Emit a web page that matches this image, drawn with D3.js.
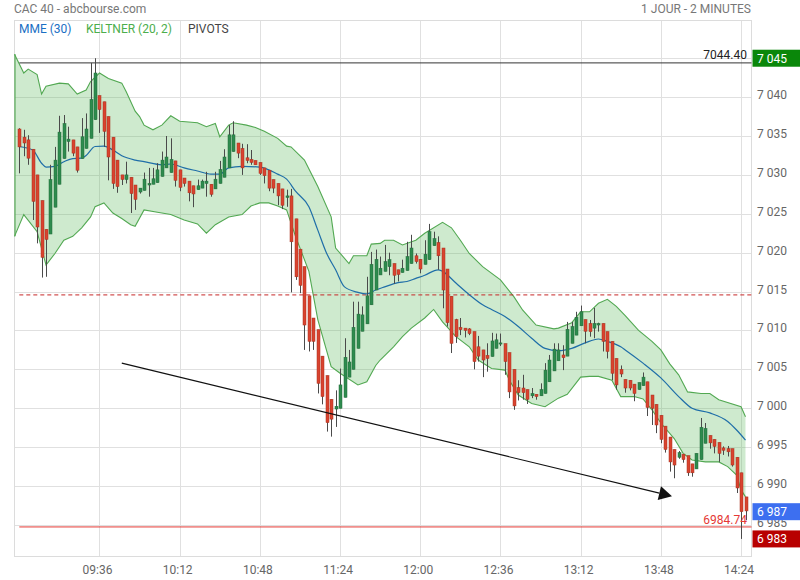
<!DOCTYPE html>
<html><head><meta charset="utf-8">
<script src="https://cdn.jsdelivr.net/npm/d3@7"></script>
<style>body{margin:0;background:#fff}svg{display:block;font-family:Roboto,"DejaVu Sans",sans-serif}</style>
</head><body>
<svg id="c" width="800" height="580"></svg>
<script>
const opens = [7035.9,7034.85,7034.5,7033.3,7030.0,7026.7,7023.0,7022.4,7025.85,7028.8,
7032.1,7034.3,7034.5,7033.6,7032.1,7033.4,7034.7,7037.1,7040.2,7039.4,
7037.5,7034.85,7031.9,7030.0,7029.4,7029.7,7028.7,7027.8,7028.0,7028.7,
7028.8,7029.0,7029.8,7030.9,7030.3,7031.8,7030.65,7029.6,7029.2,7028.6,
7028.1,7028.3,7028.9,7028.8,7028.2,7028.9,7029.7,7030.9,7033.0,7034.1,
7033.4,7032.2,7032.0,7031.85,7031.6,7030.9,7030.6,7029.4,7028.9,7028.2,
7027.1,7027.3,7024.35,7020.45,7018.2,7014.45,7011.6,7010.1,7006.7,7004.2,
7001.15,6999.9,6999.99,7001.4,7004.0,7005.0,7007.7,7009.9,7010.85,7013.3,
7015.2,7017.14,7017.6,7018.2,7018.6,7017.8,7017.45,7017.7,7018.6,7019.6,
7019.15,7018.5,7019.1,7020.9,7021.3,7020.6,7017.9,7014.4,7011.4,7010.4,
7010.3,7010.2,7009.85,7007.9,7007.5,7006.8,7006.65,7007.7,7008.25,7008.3,
7007.15,7005.0,7002.65,7002.6,7002.4,7001.6,7001.8,7001.6,7001.9,7003.4,
7004.8,7006.1,7006.85,7006.7,7008.35,7009.4,7010.6,7011.4,7010.9,7010.3,
7010.7,7010.9,7009.85,7008.6,7006.4,7005.0,7003.7,7003.6,7003.1,7002.4,
7002.9,7003.4,7001.7,7000.5,6999.1,6997.7,6996.3,6994.7,6993.7,6994.1,
6993.9,6992.85,6992.2,6993.4,6995.5,6996.5,6996.0,6995.6,6994.9,6994.8,
6994.8,6993.7,6991.7,6988.6];
const highs = [7036.0,7035.8,7035.1,7033.3,7030.0,7026.7,7023.0,7031.3,7033.6,7037.6,
7037.7,7036.2,7034.5,7033.6,7037.3,7037.9,7044.4,7045.0,7040.2,7039.4,
7037.5,7034.85,7031.9,7030.0,7031.7,7029.7,7028.7,7028.3,7030.3,7030.9,
7030.9,7031.5,7033.0,7035.0,7034.7,7031.8,7030.65,7029.6,7029.2,7028.6,
7029.4,7029.4,7030.4,7028.8,7030.4,7031.8,7033.3,7036.4,7036.9,7034.1,
7034.0,7033.95,7033.2,7031.85,7031.6,7030.9,7030.6,7029.4,7028.9,7028.2,
7028.1,7028.2,7024.35,7020.45,7018.2,7014.45,7011.6,7010.1,7006.7,7004.2,
7001.15,7002.3,7005.1,7009.0,7007.5,7013.7,7013.7,7013.1,7016.9,7020.1,
7020.4,7019.5,7021.0,7020.0,7018.6,7017.8,7019.1,7021.4,7022.3,7019.9,
7019.15,7021.6,7023.7,7022.7,7022.1,7020.6,7017.9,7014.4,7011.5,7011.6,
7010.3,7010.3,7009.85,7009.3,7007.5,7008.35,7009.7,7009.6,7009.6,7008.3,
7007.15,7005.0,7003.6,7004.3,7002.4,7002.6,7001.8,7003.2,7005.8,7006.85,
7008.35,7008.35,7008.1,7011.1,7011.1,7012.4,7013.2,7011.4,7011.35,7012.9,
7011.0,7010.9,7009.85,7008.6,7006.4,7005.5,7003.7,7003.6,7003.1,7003.3,
7004.6,7003.4,7001.7,7000.5,6999.1,6997.7,6996.3,6994.7,6994.5,6994.1,
6993.9,6992.85,6994.2,6998.75,6998.1,6996.5,6996.0,6995.6,6995.1,6995.15,
6994.8,6993.7,6991.7,6988.6];
const lows = [7030.2,7032.4,7031.3,7024.2,7021.2,7016.8,7016.9,7022.4,7025.85,7028.8,
7032.1,7033.0,7032.4,7030.3,7032.1,7033.4,7034.7,7037.1,7035.4,7033.6,
7029.3,7028.2,7027.7,7028.7,7028.9,7025.1,7025.5,7027.6,7028.0,7027.2,
7028.8,7029.0,7029.8,7030.9,7030.3,7028.5,7027.9,7028.5,7026.6,7025.85,
7028.1,7028.3,7027.2,7027.2,7028.2,7028.9,7029.7,7030.9,7033.0,7032.15,
7030.0,7031.5,7031.3,7031.3,7030.0,7028.9,7027.9,7027.65,7026.1,7025.6,
7025.9,7014.9,7016.5,7014.8,7007.5,7007.3,7007.5,7001.9,7000.5,6997.0,
6996.35,6997.6,6999.99,7001.4,7004.0,7005.0,7007.7,7009.9,7010.85,7013.3,
7015.2,7017.14,7017.6,7017.1,7016.0,7016.3,7017.45,7017.7,7018.6,7018.6,
7017.35,7018.5,7019.1,7020.9,7017.8,7012.85,7010.5,7007.1,7008.4,7009.4,
7009.1,7009.4,7005.0,7006.0,7004.0,7004.7,7006.65,7007.7,7008.0,7004.3,
7001.3,6999.8,7001.0,7001.1,7000.55,7001.3,7001.1,7001.6,7001.9,7003.4,
7004.8,7006.1,7004.9,7006.7,7008.35,7009.4,7010.6,7008.35,7009.2,7009.0,
7009.85,7007.3,7006.4,7003.6,7002.4,7004.0,7002.0,7002.3,7000.9,7002.4,
7002.9,6999.0,6997.85,6996.8,6995.5,6994.3,6991.85,6991.0,6993.5,6993.0,
6991.3,6991.2,6992.2,6993.4,6995.5,6994.8,6994.2,6993.1,6994.0,6993.8,
6992.5,6989.1,6983.2,6985.6];
const closes = [7033.6,7034.1,7032.15,7026.6,7023.3,7019.4,7021.7,7029.4,7031.9,7035.5,
7036.6,7034.6,7032.8,7030.6,7034.9,7035.9,7039.7,7043.1,7038.4,7035.6,
7032.3,7028.9,7028.5,7029.4,7030.0,7027.6,7026.85,7028.3,7029.45,7028.9,
7029.5,7030.65,7031.9,7032.3,7032.0,7029.3,7028.4,7028.9,7027.7,7027.55,
7028.6,7029.2,7029.2,7027.5,7029.45,7030.7,7032.3,7035.15,7035.15,7032.8,
7030.9,7031.85,7031.6,7031.3,7030.2,7029.9,7028.3,7028.3,7027.3,7026.1,
7027.3,7021.4,7016.9,7015.8,7010.7,7008.6,7008.6,7003.2,7001.5,6998.15,
6998.6,7000.25,7003.0,7006.55,7005.95,7010.4,7012.1,7012.0,7014.45,7018.5,
7019.15,7018.0,7018.85,7019.1,7017.1,7017.2,7018.0,7019.5,7020.6,7018.85,
7017.9,7019.8,7022.7,7021.8,7019.6,7015.2,7011.0,7008.35,7009.2,7010.1,
7010.0,7009.6,7006.0,7006.7,7006.2,7006.4,7008.65,7008.8,7008.4,7006.0,
7002.1,7000.3,7002.0,7002.0,7001.15,7001.9,7001.5,7002.4,7004.9,7006.2,
7007.6,7007.5,7006.5,7010.15,7010.5,7011.7,7012.4,7009.9,7009.85,7010.9,
7010.9,7008.6,7007.3,7004.5,7003.0,7004.4,7002.6,7002.6,7001.9,7003.3,
7004.0,7000.1,7000.0,6997.85,6996.0,6994.7,6993.1,6992.7,6994.3,6993.4,
6991.7,6991.7,6994.2,6997.55,6997.4,6995.55,6995.1,6994.2,6994.6,6994.4,
6992.7,6989.75,6986.7,6986.8];

// Keltner (20,2) bands and MME(30): [candle index, value]
const keltnerUpper = [[0,7045.5],[1,7043.1],[2,7043.6],[4,7042.9],[5,7040.4],[6,7041.4],[9,7041.8],[11,7041.7],[13,7040.4],[15,7040.9],[16,7042.0],[18,7043.1],[20,7042.4],[23,7041.8],[24,7040.7],[26,7038.2],[27,7037.5],[28,7036.4],[30,7035.8],[32,7036.4],[34,7037.6],[36,7036.9],[40,7036.7],[42,7036.2],[44,7036.6],[45,7034.9],[47,7036.4],[48,7036.7],[51,7036.4],[53,7036.1],[55,7035.6],[58,7034.7],[60,7033.7],[61,7033.6],[64,7031.9],[67,7028.5],[70,7024.6],[71,7020.6],[74,7018.6],[75,7019.6],[78,7019.6],[79,7021.1],[81,7021.2],[82,7021.6],[84,7021.6],[86,7021.0],[89,7021.6],[91,7022.5],[95,7023.9],[97,7023.2],[99,7021.6],[101,7019.9],[104,7018.2],[108,7016.5],[111,7014.35],[113,7012.6],[116,7010.7],[120,7010.2],[121,7010.3],[124,7011.0],[126,7012.4],[128,7012.4],[130,7013.5],[132,7014.0],[134,7013.1],[136,7011.9],[139,7010.0],[142,7008.6],[144,7007.5],[146,7005.7],[148,7004.3],[150,7002.1],[153,7001.9],[155,7001.9],[157,7001.1],[162,7000.2],[163,6998.9]];
const keltnerLower = [[0,7022.1],[1,7024.9],[4,7022.7],[6,7018.4],[8,7019.9],[10,7021.6],[12,7022.1],[14,7023.2],[16,7024.6],[17,7025.9],[19,7026.4],[21,7025.1],[23,7024.4],[25,7023.6],[26,7023.4],[28,7025.5],[31,7025.2],[34,7024.9],[37,7024.2],[40,7023.7],[42,7022.5],[44,7023.6],[47,7024.6],[50,7024.9],[52,7026.0],[54,7026.4],[56,7026.4],[58,7026.0],[60,7025.5],[62,7022.1],[65,7017.6],[67,7011.4],[70,7005.35],[72,7004.5],[76,7003.0],[78,7003.4],[80,7005.5],[81,7006.2],[84,7007.9],[86,7009.2],[88,7010.3],[91,7011.6],[93,7012.7],[95,7011.1],[98,7009.2],[101,7007.9],[103,7006.2],[106,7005.1],[109,7004.9],[110,7003.6],[112,7001.7],[115,7000.6],[118,7000.2],[121,7001.3],[123,7001.8],[126,7004.0],[128,7004.1],[130,7004.1],[133,7003.6],[135,7001.5],[138,7001.5],[140,7001.2],[142,6999.8],[144,6998.1],[147,6996.1],[149,6994.2],[151,6993.35],[154,6993.1],[157,6993.1],[159,6992.5],[161,6991.4],[162,6989.5],[163,6988.6]];
const mme30 = [[0,7033.65],[3,7033.2],[5,7031.5],[6,7031.0],[8,7031.1],[10,7031.7],[12,7032.1],[14,7032.15],[15,7032.5],[17,7033.65],[19,7033.7],[21,7033.2],[23,7032.45],[26,7031.9],[28,7031.7],[32,7031.3],[34,7031.4],[37,7030.9],[40,7030.5],[43,7030.1],[45,7030.1],[47,7030.9],[50,7031.1],[54,7031.0],[58,7030.1],[60,7029.45],[62,7027.9],[65,7025.9],[67,7022.9],[69,7019.9],[71,7017.8],[73,7015.6],[76,7014.9],[78,7014.7],[80,7015.2],[82,7015.6],[85,7016.15],[87,7016.3],[89,7016.7],[91,7017.1],[94,7017.8],[95,7017.6],[98,7016.1],[101,7014.6],[104,7013.3],[106,7012.7],[109,7011.8],[112,7010.5],[115,7009.0],[118,7007.7],[121,7007.4],[124,7007.7],[127,7008.4],[130,7008.9],[132,7008.6],[135,7007.9],[136,7007.5],[140,7005.8],[144,7003.9],[148,7001.5],[151,7000.0],[155,6999.4],[159,6998.3],[161,6997.2],[163,6995.9]];

const pivotLevels = [7044.40, 7014.57, 6984.74];
const trendLine = [[23, 7005.8], [146.5, 6988.7]];
const yTicks = [6985,6990,6995,7000,7005,7010,7015,7020,7025,7030,7035,7040,7045];
const yTickLabels = ["6 985","6 990","6 995","7 000","7 005","7 010","7 015","7 020","7 025","7 030","7 035","7 040",""];
const xTickIdx = [18,36,54,72,90,108,126,144,162];
const xTickLabels = ["09:36","10:12","10:48","11:24","12:00","12:36","13:12","13:48","14:24"];
const dayHigh = 7045.0, lastPrice = 6986.7, dayLow = 6983.2;

const svg = d3.select("#c");
const L = 14.5, R = 751.5, T = 20.5, B = 556.5;
const x = d3.scaleLinear().domain([0, 163]).range([19.3, 745.5]);
const y = d3.scaleLinear().domain([6980.94, 7049.85]).range([B, T]);
const frFmt = v => d3.format(",.0f")(v).replace(/,/g, " ");
const bx = i => i === 0 ? L : x(i);   // band reaches the plot's left edge

svg.append("rect").attr("width",800).attr("height",580).attr("fill","#fff");

// grid
const g = svg.append("g");
g.selectAll(".hg").data(yTicks).join("line")
  .attr("x1",L).attr("x2",R).attr("y1",d=>Math.round(y(d))+0.5).attr("y2",d=>Math.round(y(d))+0.5)
  .attr("stroke","#e0e0e0").attr("stroke-width",1);
g.selectAll(".vg").data(xTickIdx).join("line")
  .attr("x1",d=>Math.round(x(d))+0.5).attr("x2",d=>Math.round(x(d))+0.5).attr("y1",T).attr("y2",B)
  .attr("stroke","#e0e0e0").attr("stroke-width",1);
g.append("rect").attr("x",L).attr("y",T).attr("width",R-L).attr("height",B-T)
  .attr("fill","none").attr("stroke","#dcdcdc");

// Keltner band
const bandLine = d3.line().x(d=>bx(d[0])).y(d=>y(d[1]));
const poly = keltnerUpper.map(d=>[bx(d[0]),y(d[1])]).concat(keltnerLower.slice().reverse().map(d=>[bx(d[0]),y(d[1])]));
svg.append("path").attr("d","M"+poly.map(p=>p.join(",")).join("L")+"Z")
  .attr("fill","#5cb85c").attr("fill-opacity",0.3).attr("stroke","none");
svg.append("path").attr("d",bandLine(keltnerUpper)).attr("fill","none").attr("stroke","#52a852").attr("stroke-width",1.1);
svg.append("path").attr("d",bandLine(keltnerLower)).attr("fill","none").attr("stroke","#52a852").attr("stroke-width",1.1);
svg.append("line").attr("x1",L+0.5).attr("x2",L+0.5).attr("y1",y(keltnerUpper[0][1])).attr("y2",y(keltnerLower[0][1]))
  .attr("stroke","#52a852").attr("stroke-width",1.1);

// pivot lines
svg.append("line").attr("x1",x(0)).attr("x2",R).attr("y1",y(pivotLevels[0])).attr("y2",y(pivotLevels[0]))
  .attr("stroke","#333").attr("stroke-width",1);
svg.append("line").attr("x1",x(0)).attr("x2",R).attr("y1",y(pivotLevels[1])).attr("y2",y(pivotLevels[1]))
  .attr("stroke","#c62828").attr("stroke-width",1).attr("stroke-dasharray","4,3");
svg.append("line").attr("x1",x(0)).attr("x2",R).attr("y1",y(pivotLevels[2])).attr("y2",y(pivotLevels[2]))
  .attr("stroke","#e53935").attr("stroke-width",1);

// MME 30
svg.append("path").attr("d",d3.line().x(d=>x(d[0])).y(d=>y(d[1])).curve(d3.curveMonotoneX)(mme30))
  .attr("fill","none").attr("stroke","#1f6ea8").attr("stroke-width",1.2);

// candles
const idx = d3.range(opens.length);
const cg = svg.append("g");
cg.selectAll(".wick").data(idx).join("line")
  .attr("x1",i=>Math.round(x(i))+0.5).attr("x2",i=>Math.round(x(i))+0.5)
  .attr("y1",i=>y(highs[i])).attr("y2",i=>y(lows[i]))
  .attr("stroke","#4a4a4a").attr("stroke-width",1);
cg.selectAll(".body").data(idx).join("rect")
  .attr("x",i=>Math.round(x(i))-1)
  .attr("width",3)
  .attr("y",i=>y(Math.max(opens[i],closes[i])))
  .attr("height",i=>Math.max(1,Math.abs(y(opens[i])-y(closes[i]))))
  .attr("fill",i=>closes[i]>=opens[i]?"#2e8b4e":"#d9432f")
  .attr("stroke",i=>closes[i]>=opens[i]?"#236b3b":"#a8321f").attr("stroke-width",0.5);

// trend arrow
const p0=[x(trendLine[0][0]),y(trendLine[0][1])], p1=[x(trendLine[1][0]),y(trendLine[1][1])];
const ang=Math.atan2(p1[1]-p0[1],p1[0]-p0[0]);
const hl=13, hw=7;
const base=[p1[0]-hl*Math.cos(ang),p1[1]-hl*Math.sin(ang)];
svg.append("line").attr("x1",p0[0]).attr("y1",p0[1]).attr("x2",base[0]).attr("y2",base[1])
  .attr("stroke","#111").attr("stroke-width",1.2);
svg.append("path").attr("d",`M${p1[0]},${p1[1]}L${base[0]-hw*Math.sin(ang)},${base[1]+hw*Math.cos(ang)}L${base[0]+hw*Math.sin(ang)},${base[1]-hw*Math.cos(ang)}Z`)
  .attr("fill","#111");

// y tick labels
svg.selectAll(".yl").data(yTicks).join("text")
  .attr("x",757).attr("y",d=>y(d)+2)
  .attr("font-size",12).attr("fill","#666").text((d,i)=>yTickLabels[i]);
// x tick labels
svg.selectAll(".xl").data(xTickIdx).join("text")
  .attr("x",d=>x(d)-2).attr("y",574).attr("text-anchor","middle")
  .attr("font-size",12).attr("fill","#666").text((d,i)=>xTickLabels[i]);

// level labels
svg.append("text").attr("x",747).attr("y",y(pivotLevels[0])-4).attr("text-anchor","end")
  .attr("font-size",12).attr("fill","#222").text(pivotLevels[0].toFixed(2));
svg.append("text").attr("x",747).attr("y",y(pivotLevels[2])-3).attr("text-anchor","end")
  .attr("font-size",12).attr("fill","#e53935").text(pivotLevels[2].toFixed(2));

// price boxes
function box(v, col){
  const cy=y(v);
  svg.append("rect").attr("x",752.5).attr("y",cy-8.5).attr("width",48).attr("height",17).attr("fill",col);
  svg.append("text").attr("x",757).attr("y",cy+4.5).attr("font-size",12).attr("fill","#fff").text(frFmt(v));
}
box(dayHigh,"#0a870a");
box(lastPrice,"#3d6ff0");
box(dayLow,"#b80000");

// header
svg.append("text").attr("x",14).attr("y",13).attr("font-size",12).attr("fill","#777").text("CAC 40 - abcbourse.com");
svg.append("text").attr("x",751).attr("y",13).attr("text-anchor","end").attr("font-size",12).attr("fill","#777").text("1 JOUR - 2 MINUTES");
svg.append("text").attr("x",19).attr("y",33).attr("font-size",12).attr("fill","#1a6fc4").text("MME (30)");
svg.append("text").attr("x",86).attr("y",33).attr("font-size",12).attr("fill","#4cae4c").text("KELTNER (20, 2)");
svg.append("text").attr("x",188).attr("y",33).attr("font-size",12).attr("fill","#444").text("PIVOTS");
</script>
</body></html>
